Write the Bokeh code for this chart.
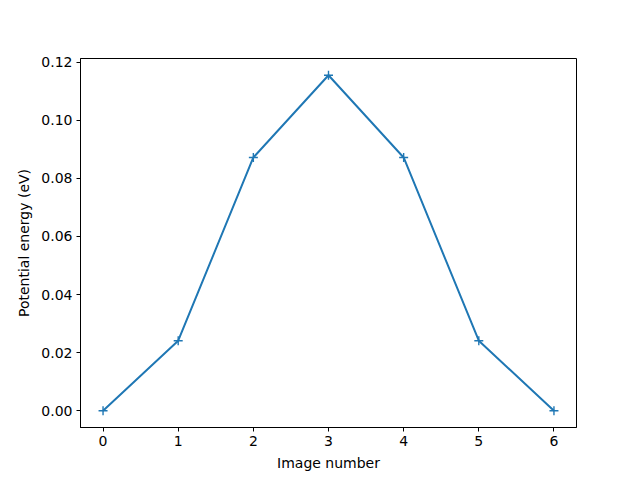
from bokeh.plotting import figure
from bokeh.models import FixedTicker, Range1d, NumeralTickFormatter
from bokeh.embed import file_html
from bokeh.resources import INLINE

images = [0, 1, 2, 3, 4, 5, 6]
energies = [0.0, 0.0241, 0.0872, 0.1155, 0.0872, 0.0241, 0.0]
x_ticks = [0, 1, 2, 3, 4, 5, 6]
y_ticks = [0.0, 0.02, 0.04, 0.06, 0.08, 0.10, 0.12]

color = "#1f77b4"

p = figure(frame_width=496, frame_height=369, output_backend="svg", toolbar_location=None,
           min_border_left=80, min_border_right=64, min_border_top=58, min_border_bottom=53,
           x_range=Range1d(-0.3, 6.3), y_range=Range1d(-0.00578, 0.12128))
p.line(images, energies, line_color=color, line_width=2)
p.scatter(images, energies, marker="cross", size=9, line_color=color, line_width=1.4)

p.xgrid.visible = False
p.ygrid.visible = False
p.outline_line_color = "black"
p.outline_line_width = 1
p.outline_line_alpha = 1

p.xaxis.ticker = FixedTicker(ticks=x_ticks)
p.yaxis.ticker = FixedTicker(ticks=y_ticks)
p.yaxis.formatter = NumeralTickFormatter(format="0.00")
p.xaxis.axis_label = "Image number"
p.yaxis.axis_label = "Potential energy (eV)"

for ax in (p.xaxis[0], p.yaxis[0]):
    ax.major_tick_in = 0
    ax.major_tick_out = 4
    ax.minor_tick_line_color = None
    ax.axis_line_color = "black"
    ax.major_tick_line_color = "black"
    ax.major_label_text_font = "DejaVu Sans"
    ax.major_label_text_font_size = "14px"
    ax.major_label_text_color = "black"
    ax.axis_label_text_font = "DejaVu Sans"
    ax.axis_label_text_font_size = "14px"
    ax.axis_label_text_font_style = "normal"
    ax.axis_label_text_color = "black"
    ax.major_label_standoff = 4
    ax.axis_label_standoff = 6

open("out.html", "w").write(file_html(p, INLINE))
